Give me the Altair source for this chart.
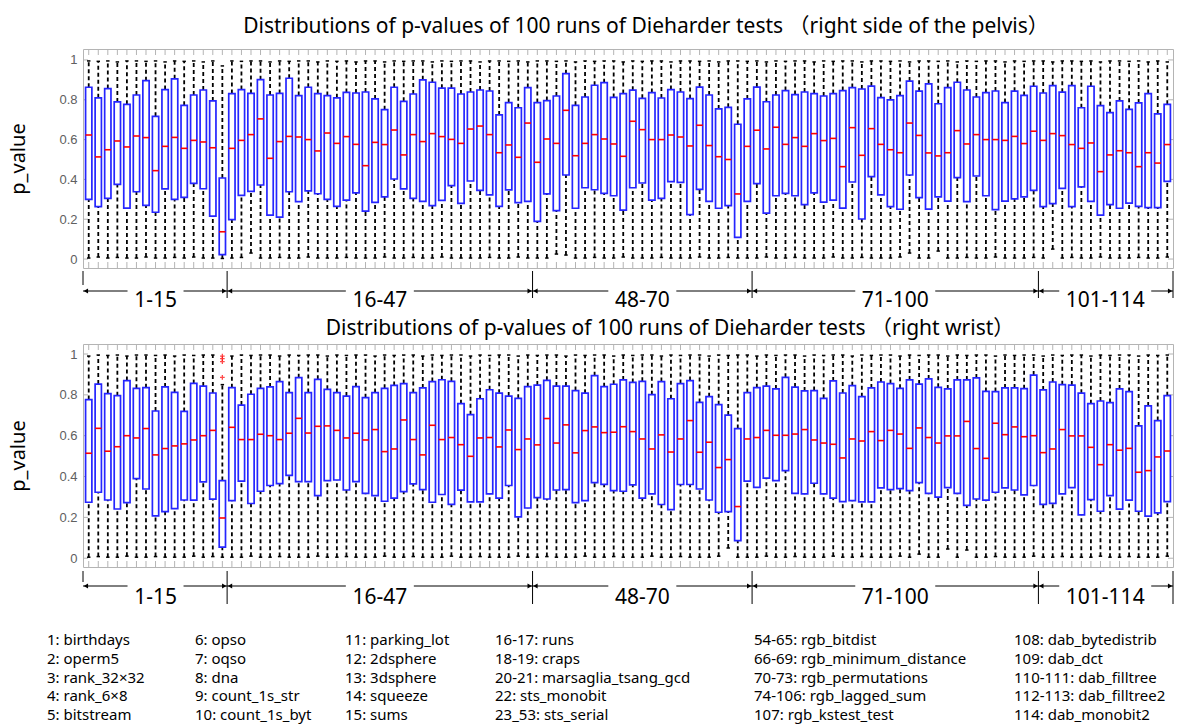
import altair as alt
import pandas as pd

IDX = list(range(1, 115))

# ---------------- right side of the pelvis ----------------
PELVIS_Q3 = [0.863, 0.81, 0.856, 0.789, 0.777, 0.824, 0.896, 0.717, 0.851, 0.905,
             0.772, 0.824, 0.849, 0.794, 0.407, 0.831, 0.851, 0.832, 0.901, 0.824,
             0.832, 0.908, 0.821, 0.863, 0.831, 0.821, 0.81, 0.837, 0.834, 0.839,
             0.804, 0.75, 0.863, 0.792, 0.829, 0.90, 0.888, 0.858, 0.858, 0.829,
             0.839, 0.849, 0.844, 0.724, 0.786, 0.760, 0.861, 0.786, 0.796, 0.819,
             0.931, 0.772, 0.814, 0.873, 0.886, 0.812, 0.831, 0.848, 0.807, 0.836,
             0.809, 0.851, 0.839, 0.806, 0.864, 0.824, 0.754, 0.762, 0.677, 0.804,
             0.864, 0.79, 0.824, 0.846, 0.826, 0.839, 0.831, 0.819, 0.831, 0.846,
             0.861, 0.854, 0.869, 0.811, 0.799, 0.821, 0.894, 0.843, 0.88, 0.78,
             0.861, 0.888, 0.849, 0.814, 0.836, 0.844, 0.786, 0.843, 0.822, 0.868,
             0.834, 0.871, 0.838, 0.871, 0.76, 0.868, 0.771, 0.735, 0.794, 0.752,
             0.784, 0.831, 0.729, 0.777]
PELVIS_MED = [0.623, 0.513, 0.549, 0.593, 0.563, 0.618, 0.61, 0.444, 0.566, 0.611,
              0.556, 0.596, 0.588, 0.559, 0.137, 0.556, 0.596, 0.625, 0.704, 0.506,
              0.59, 0.616, 0.613, 0.60, 0.543, 0.633, 0.581, 0.615, 0.576, 0.469,
              0.586, 0.575, 0.648, 0.523, 0.625, 0.59, 0.63, 0.615, 0.601, 0.581,
              0.653, 0.668, 0.625, 0.534, 0.573, 0.511, 0.683, 0.486, 0.603, 0.581,
              0.747, 0.519, 0.581, 0.625, 0.603, 0.578, 0.516, 0.692, 0.65, 0.60,
              0.60, 0.623, 0.613, 0.568, 0.672, 0.57, 0.514, 0.50, 0.327, 0.566,
              0.647, 0.553, 0.662, 0.576, 0.61, 0.566, 0.63, 0.595, 0.606, 0.464,
              0.66, 0.521, 0.655, 0.576, 0.549, 0.534, 0.683, 0.621, 0.533, 0.518,
              0.534, 0.645, 0.578, 0.625, 0.60, 0.60, 0.596, 0.616, 0.58, 0.642,
              0.596, 0.63, 0.62, 0.575, 0.556, 0.583, 0.439, 0.523, 0.544, 0.534,
              0.464, 0.534, 0.482, 0.575]
PELVIS_Q1 = [0.30, 0.263, 0.305, 0.375, 0.256, 0.338, 0.27, 0.235, 0.352, 0.30,
             0.31, 0.38, 0.353, 0.216, 0.022, 0.198, 0.32, 0.34, 0.372, 0.221,
             0.211, 0.338, 0.288, 0.342, 0.328, 0.30, 0.265, 0.296, 0.332, 0.241,
             0.285, 0.312, 0.402, 0.352, 0.305, 0.29, 0.268, 0.295, 0.369, 0.28,
             0.392, 0.345, 0.322, 0.265, 0.347, 0.283, 0.29, 0.189, 0.327, 0.243,
             0.422, 0.255, 0.358, 0.348, 0.33, 0.318, 0.246, 0.358, 0.382, 0.296,
             0.305, 0.389, 0.385, 0.223, 0.35, 0.29, 0.255, 0.268, 0.109, 0.29,
             0.379, 0.231, 0.318, 0.33, 0.318, 0.273, 0.332, 0.286, 0.296, 0.256,
             0.387, 0.201, 0.414, 0.322, 0.263, 0.25, 0.422, 0.308, 0.251, 0.312,
             0.291, 0.409, 0.288, 0.417, 0.318, 0.248, 0.291, 0.302, 0.312, 0.345,
             0.263, 0.278, 0.355, 0.263, 0.362, 0.29, 0.221, 0.273, 0.255, 0.281,
             0.265, 0.258, 0.258, 0.39]
PELVIS_HI = [0.995, 0.993, 0.995, 0.99, 0.995, 0.995, 0.993, 0.995, 0.99, 0.995,
             0.993, 0.995, 0.99, 0.995, 0.97, 0.995, 0.993, 0.995, 0.995, 0.99,
             0.995, 0.993, 0.995, 0.995, 0.99, 0.995, 0.993, 0.995, 0.99, 0.995,
             0.995, 0.99, 0.995, 0.993, 0.995, 0.995, 0.99, 0.995, 0.993, 0.995,
             0.995, 0.99, 0.995, 0.995, 0.993, 0.995, 0.99, 0.995, 0.995, 0.993,
             0.995, 0.99, 0.995, 0.993, 0.995, 0.995, 0.99, 0.995, 0.993, 0.995,
             0.995, 0.99, 0.995, 0.995, 0.993, 0.995, 0.99, 0.995, 0.995, 0.993,
             0.995, 0.99, 0.995, 0.993, 0.995, 0.995, 0.99, 0.995, 0.993, 0.995,
             0.995, 0.99, 0.995, 0.995, 0.993, 0.995, 0.99, 0.995, 0.995, 0.993,
             0.995, 0.99, 0.995, 0.993, 0.995, 0.995, 0.99, 0.995, 0.993, 0.995,
             0.995, 0.99, 0.995, 0.995, 0.993, 0.995, 0.99, 0.995, 0.995, 0.993,
             0.995, 0.99, 0.995, 0.99]
PELVIS_LO = [0.005, 0.01, 0.005, 0.008, 0.005, 0.005, 0.01, 0.005, 0.005, 0.008,
             0.005, 0.01, 0.005, 0.005, 0.003, 0.005, 0.008, 0.03, 0.005, 0.005,
             0.008, 0.005, 0.005, 0.01, 0.005, 0.005, 0.005, 0.008, 0.005, 0.005,
             0.005, 0.01, 0.005, 0.005, 0.008, 0.005, 0.005, 0.01, 0.005, 0.005,
             0.005, 0.005, 0.008, 0.005, 0.005, 0.01, 0.005, 0.005, 0.005, 0.025,
             0.02, 0.005, 0.005, 0.008, 0.005, 0.005, 0.01, 0.005, 0.005, 0.005,
             0.008, 0.005, 0.005, 0.005, 0.01, 0.005, 0.005, 0.008, 0.005, 0.005,
             0.005, 0.01, 0.005, 0.005, 0.008, 0.005, 0.005, 0.005, 0.01, 0.005,
             0.005, 0.008, 0.005, 0.005, 0.005, 0.01, 0.03, 0.005, 0.005, 0.04,
             0.005, 0.005, 0.008, 0.005, 0.005, 0.01, 0.005, 0.005, 0.005, 0.008,
             0.005, 0.05, 0.005, 0.008, 0.005, 0.005, 0.01, 0.005, 0.005, 0.005,
             0.008, 0.005, 0.005, 0.01]

# ---------------- right wrist ----------------
WRIST_Q3 = [0.777, 0.853, 0.806, 0.796, 0.87, 0.832, 0.835, 0.721, 0.839, 0.812,
            0.719, 0.856, 0.843, 0.809, 0.38, 0.835, 0.75, 0.803, 0.832, 0.839,
            0.865, 0.811, 0.884, 0.811, 0.876, 0.827, 0.811, 0.794, 0.84, 0.786,
            0.811, 0.832, 0.846, 0.855, 0.811, 0.834, 0.865, 0.874, 0.866, 0.757,
            0.703, 0.781, 0.825, 0.808, 0.794, 0.783, 0.84, 0.848, 0.871, 0.843,
            0.843, 0.821, 0.808, 0.894, 0.84, 0.852, 0.873, 0.861, 0.866, 0.801,
            0.865, 0.781, 0.855, 0.87, 0.763, 0.791, 0.752, 0.701, 0.635, 0.811,
            0.835, 0.843, 0.829, 0.886, 0.838, 0.819, 0.821, 0.783, 0.868, 0.809,
            0.845, 0.791, 0.834, 0.863, 0.855, 0.832, 0.873, 0.853, 0.878, 0.837,
            0.829, 0.873, 0.873, 0.883, 0.817, 0.816, 0.834, 0.834, 0.83, 0.897,
            0.824, 0.863, 0.85, 0.848, 0.808, 0.757, 0.77, 0.762, 0.829, 0.816,
            0.648, 0.746, 0.674, 0.796]
WRIST_MED = [0.514, 0.636, 0.524, 0.546, 0.60, 0.589, 0.635, 0.506, 0.537, 0.55,
             0.56, 0.579, 0.60, 0.626, 0.197, 0.641, 0.581, 0.581, 0.607, 0.60,
             0.581, 0.612, 0.685, 0.613, 0.646, 0.648, 0.626, 0.589, 0.612, 0.579,
             0.63, 0.522, 0.535, 0.677, 0.581, 0.506, 0.651, 0.581, 0.591, 0.556,
             0.499, 0.589, 0.591, 0.545, 0.628, 0.532, 0.584, 0.555, 0.684, 0.564,
             0.653, 0.516, 0.625, 0.643, 0.615, 0.617, 0.644, 0.62, 0.584, 0.535,
             0.604, 0.52, 0.584, 0.674, 0.519, 0.568, 0.444, 0.483, 0.253, 0.584,
             0.591, 0.626, 0.602, 0.602, 0.608, 0.63, 0.579, 0.564, 0.558, 0.491,
             0.584, 0.574, 0.62, 0.576, 0.626, 0.608, 0.538, 0.638, 0.591, 0.564,
             0.599, 0.599, 0.67, 0.537, 0.489, 0.661, 0.605, 0.643, 0.595, 0.60,
             0.517, 0.535, 0.63, 0.599, 0.599, 0.543, 0.458, 0.556, 0.529, 0.538,
             0.421, 0.429, 0.496, 0.525]
WRIST_Q1 = [0.274, 0.323, 0.285, 0.241, 0.272, 0.39, 0.339, 0.207, 0.228, 0.243,
            0.285, 0.284, 0.374, 0.289, 0.054, 0.282, 0.378, 0.268, 0.328, 0.356,
            0.365, 0.406, 0.375, 0.375, 0.307, 0.38, 0.383, 0.334, 0.375, 0.318,
            0.307, 0.279, 0.294, 0.326, 0.364, 0.336, 0.274, 0.312, 0.264, 0.333,
            0.276, 0.276, 0.315, 0.294, 0.356, 0.202, 0.246, 0.297, 0.29, 0.334,
            0.336, 0.272, 0.282, 0.37, 0.362, 0.331, 0.328, 0.359, 0.294, 0.315,
            0.263, 0.238, 0.361, 0.361, 0.339, 0.285, 0.225, 0.228, 0.086, 0.378,
            0.347, 0.392, 0.38, 0.429, 0.318, 0.315, 0.367, 0.315, 0.294, 0.277,
            0.282, 0.276, 0.276, 0.344, 0.336, 0.341, 0.331, 0.37, 0.318, 0.299,
            0.346, 0.318, 0.259, 0.29, 0.284, 0.323, 0.344, 0.334, 0.31, 0.356,
            0.264, 0.269, 0.315, 0.346, 0.212, 0.287, 0.23, 0.307, 0.24, 0.284,
            0.23, 0.206, 0.222, 0.277]
WRIST_HI = [0.99, 0.995, 0.993, 0.995, 0.99, 0.995, 0.995, 0.993, 0.995, 0.99,
            0.995, 0.993, 0.995, 0.995, 0.85, 0.99, 0.995, 0.993, 0.995, 0.995,
            0.99, 0.995, 0.993, 0.995, 0.995, 0.99, 0.995, 0.993, 0.995, 0.995,
            0.99, 0.995, 0.993, 0.995, 0.995, 0.99, 0.995, 0.993, 0.995, 0.995,
            0.99, 0.995, 0.993, 0.995, 0.995, 0.99, 0.995, 0.993, 0.995, 0.995,
            0.99, 0.995, 0.993, 0.995, 0.995, 0.99, 0.995, 0.993, 0.995, 0.995,
            0.99, 0.995, 0.993, 0.995, 0.995, 0.99, 0.995, 0.993, 0.995, 0.995,
            0.99, 0.995, 0.993, 0.995, 0.995, 0.99, 0.995, 0.993, 0.995, 0.995,
            0.99, 0.995, 0.993, 0.995, 0.995, 0.99, 0.995, 0.993, 0.995, 0.995,
            0.99, 0.995, 0.993, 0.995, 0.995, 0.99, 0.995, 0.993, 0.995, 0.995,
            0.99, 0.995, 0.993, 0.995, 0.995, 0.99, 0.995, 0.993, 0.995, 0.995,
            0.99, 0.995, 0.993, 0.995]
WRIST_LO = [0.005, 0.008, 0.005, 0.005, 0.01, 0.005, 0.005, 0.008, 0.005, 0.005,
            0.005, 0.01, 0.005, 0.008, 0.005, 0.005, 0.005, 0.01, 0.005, 0.005,
            0.008, 0.005, 0.005, 0.005, 0.01, 0.005, 0.005, 0.008, 0.005, 0.005,
            0.005, 0.01, 0.005, 0.005, 0.008, 0.005, 0.005, 0.005, 0.01, 0.005,
            0.005, 0.008, 0.005, 0.005, 0.005, 0.01, 0.005, 0.005, 0.008, 0.005,
            0.005, 0.005, 0.01, 0.005, 0.005, 0.008, 0.005, 0.005, 0.005, 0.01,
            0.005, 0.005, 0.008, 0.005, 0.005, 0.005, 0.01, 0.05, 0.005, 0.005,
            0.005, 0.01, 0.005, 0.005, 0.008, 0.005, 0.005, 0.005, 0.01, 0.005,
            0.005, 0.008, 0.005, 0.005, 0.005, 0.01, 0.005, 0.02, 0.005, 0.005,
            0.045, 0.005, 0.04, 0.005, 0.005, 0.008, 0.005, 0.005, 0.005, 0.01,
            0.005, 0.005, 0.008, 0.005, 0.005, 0.005, 0.01, 0.005, 0.005, 0.008,
            0.005, 0.005, 0.005, 0.01]
WRIST_OUT_IDX = [15, 15, 15, 15]
WRIST_OUT_VAL = [0.99, 0.977, 0.963, 0.886]

# ---------------- test groups ----------------
GROUP_LABELS = ["1-15", "16-47", "48-70", "71-100", "101-114"]
GROUP_START = [1, 16, 48, 71, 101]
GROUP_END = [15, 47, 70, 100, 114]

# ---------------- legend text ----------------
LEGEND_COLS = [
    ["1: birthdays", "2: operm5", "3: rank_32×32", "4: rank_6×8", "5: bitstream"],
    ["6: opso", "7: oqso", "8: dna", "9: count_1s_str", "10: count_1s_byt"],
    ["11: parking_lot", "12: 2dsphere", "13: 3dsphere", "14: squeeze", "15: sums"],
    ["16-17: runs", "18-19: craps", "20-21: marsaglia_tsang_gcd", "22: sts_monobit", "23_53: sts_serial"],
    ["54-65: rgb_bitdist", "66-69: rgb_minimum_distance", "70-73: rgb_permutations",
     "74-106: rgb_lagged_sum", "107: rgb_kstest_test"],
    ["108: dab_bytedistrib", "109: dab_dct", "110-111: dab_filltree", "112-113: dab_filltree2",
     "114: dab_monobit2"],
]
Y_TICKS = [0, 0.2, 0.4, 0.6, 0.8, 1.0]

# ---------------- layout / style ----------------
FONT = "Noto Sans, Noto Sans CJK SC"
PW = 1090
XDOM = [0.4, 114.6]
BOX_BLUE = "#2525ff"
FRAME = "#b4b4b4"
LEG_X = [-36, 112, 262, 412, 671, 931]

xs = alt.Scale(domain=XDOM, nice=False, zero=False)


def X(f):
    return alt.X(f, type="quantitative", scale=xs, axis=None)


def box_panel(q1, med, q3, lo, hi, ydom, h, title, dx, offset, out_i=None, out_v=None):
    ys = alt.Scale(domain=ydom, nice=False, zero=False)
    yax = alt.Axis(title="p_value", values=Y_TICKS, format="~g", grid=False, ticks=False,
                   domain=False, labelColor="#606060", labelFont="Liberation Sans",
                   labelFontSize=13, labelPadding=6, titleFont=FONT, titleFontSize=20,
                   titleFontWeight="normal", titleColor="black", titlePadding=30)

    def Y(f):
        return alt.Y(f, type="quantitative", scale=ys, axis=yax)

    df = pd.DataFrame(dict(i=IDX, q1=q1, med=med, q3=q3, lo=lo, hi=hi))
    base = alt.Chart(df).transform_calculate(
        bl="datum.i - 0.33", br="datum.i + 0.33", cl="datum.i - 0.18", cr="datum.i + 0.18")

    ticks_df = pd.DataFrame({"i": IDX})
    yt_df = pd.DataFrame({"v": Y_TICKS})
    xt_top = alt.Chart(ticks_df).mark_rule(color=FRAME, strokeWidth=1).encode(
        x=X("i"), y=alt.value(0), y2=alt.value(6))
    xt_bot = alt.Chart(ticks_df).mark_rule(color=FRAME, strokeWidth=1).encode(
        x=X("i"), y=alt.value(h), y2=alt.value(h - 6))
    yt_l = alt.Chart(yt_df).mark_rule(color=FRAME, strokeWidth=1).encode(
        x=alt.value(0), x2=alt.value(5), y=Y("v"))
    yt_r = alt.Chart(yt_df).mark_rule(color=FRAME, strokeWidth=1).encode(
        x=alt.value(PW - 5), x2=alt.value(PW), y=Y("v"))

    wu = base.mark_rule(color="black", strokeWidth=1.8, strokeDash=[4, 3]).encode(
        x=X("i"), y=Y("q3"), y2="hi:Q")
    wl = base.mark_rule(color="black", strokeWidth=1.8, strokeDash=[4, 3]).encode(
        x=X("i"), y=Y("lo"), y2="q1:Q")
    cu = base.mark_rule(color="black", strokeWidth=1.5).encode(
        x=X("cl"), x2="cr:Q", y=Y("hi"))
    cl = base.mark_rule(color="black", strokeWidth=1.5).encode(
        x=X("cl"), x2="cr:Q", y=Y("lo"))
    box = base.mark_rect(fill="white", stroke=BOX_BLUE, strokeWidth=1.7).encode(
        x=X("bl"), x2="br:Q", y=Y("q1"), y2="q3:Q")
    md = base.mark_rule(color="#ff0000", strokeWidth=1.6).encode(
        x=X("bl"), x2="br:Q", y=Y("med"))
    layers = [xt_top, xt_bot, yt_l, yt_r, wu, wl, cu, cl, box, md]
    if out_i is not None:
        odf = pd.DataFrame({"i": out_i, "v": out_v})
        layers.append(alt.Chart(odf).mark_point(
            shape="M-1,0L1,0M0,-1L0,1", filled=False, color="#ff0000", size=22,
            strokeWidth=1.3).encode(x=X("i"), y=Y("v")))
    return alt.layer(*layers).properties(
        width=PW, height=h,
        view=alt.ViewBackground(stroke=FRAME, strokeWidth=1),
        title=alt.TitleParams(text=title, font=FONT, fontSize=21, fontWeight="normal",
                              color="black", anchor="middle", dx=dx, offset=offset))


def ann_panel(h, btop, bbot, fbot, ay, ty):
    gdf = pd.DataFrame(dict(label=GROUP_LABELS, s=GROUP_START, e=GROUP_END))
    base = alt.Chart(gdf).transform_calculate(
        lb="datum.s == 1 ? 0.4 : datum.s - 0.5",
        rb="datum.e == 114 ? 114.6 : datum.e + 0.5",
        c="(datum.s + datum.e) / 2",
        hw="(length(datum.label) * 6.0 + 4) / 9.545",
    ).transform_calculate(
        l2="datum.c - datum.hw", r2="datum.c + datum.hw",
        al="datum.lb + 0.3", ar="datum.rb - 0.3")
    bnd = base.mark_rule(color="black", strokeWidth=1).encode(
        x=X("rb"), y=alt.value(btop), y2=alt.value(bbot))
    first = base.transform_filter("datum.s == 1").mark_rule(color="black", strokeWidth=1).encode(
        x=X("lb"), y=alt.value(btop), y2=alt.value(fbot))
    segl = base.mark_rule(color="black", strokeWidth=1).encode(
        x=X("lb"), x2="l2:Q", y=alt.value(ay))
    segr = base.mark_rule(color="black", strokeWidth=1).encode(
        x=X("r2"), x2="rb:Q", y=alt.value(ay))
    hl = base.mark_point(shape="triangle-left", filled=True, color="black", size=26, opacity=1).encode(
        x=X("al"), y=alt.value(ay))
    hr = base.mark_point(shape="triangle-right", filled=True, color="black", size=26, opacity=1).encode(
        x=X("ar"), y=alt.value(ay))
    txt = base.mark_text(font=FONT, fontSize=21, color="black", align="center",
                         baseline="middle").encode(x=X("c"), y=alt.value(ty), text="label:N")
    return alt.layer(bnd, first, segl, segr, hl, hr, txt).properties(width=PW, height=h)


def legend_panel(h):
    ys = alt.Scale(domain=[0, 4], range=[31, 106])
    layers = []
    for k, col in enumerate(LEGEND_COLS):
        cdf = pd.DataFrame({"row": list(range(len(col))), "t": col})
        layers.append(alt.Chart(cdf).mark_text(font=FONT, fontSize=15, color="black",
                                               align="left", baseline="middle").encode(
            x=alt.value(LEG_X[k]),
            y=alt.Y("row:Q", scale=ys, axis=None),
            text="t:N"))
    return alt.layer(*layers).properties(width=PW, height=h)


top = box_panel(PELVIS_Q1, PELVIS_MED, PELVIS_Q3, PELVIS_LO, PELVIS_HI,
                [-0.045, 1.055], 219,
                "Distributions of p-values of 100 runs of Dieharder tests （right side of the pelvis）",
                18, 12)
ann1 = ann_panel(76, 3, 30, 17, 23, 33)
bottom = box_panel(WRIST_Q1, WRIST_MED, WRIST_Q3, WRIST_LO, WRIST_HI,
                   [-0.043, 1.049], 223,
                   "Distributions of p-values of 100 runs of Dieharder tests （right wrist）",
                   42, 5, WRIST_OUT_IDX, WRIST_OUT_VAL)
ann2 = ann_panel(42, 4, 37, 15, 19, 31)
leg = legend_panel(115)

chart = alt.vconcat(top, ann1, bottom, ann2, leg, spacing=0, bounds="flush").properties(
    padding={"left": 8, "top": 15, "right": 4, "bottom": 0}
).configure(font=FONT).configure_view(stroke="transparent")

chart.save("out.html", embed_options={"renderer": "svg", "actions": False})
